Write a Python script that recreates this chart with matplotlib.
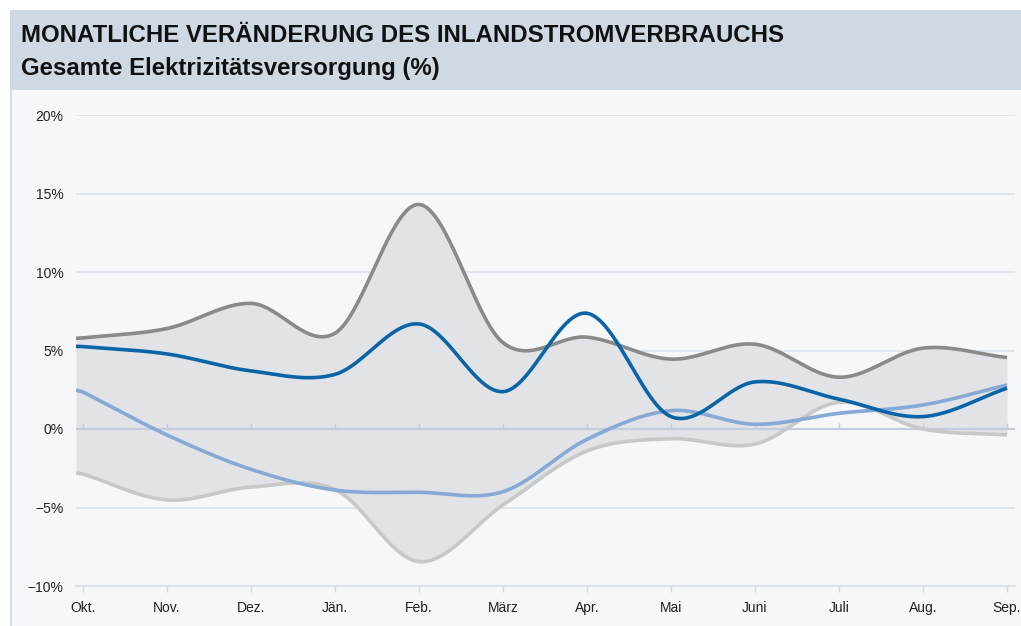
import numpy as np
import matplotlib
matplotlib.use("Agg")
import matplotlib.pyplot as plt
from matplotlib.patches import Rectangle
from matplotlib.lines import Line2D

months = ["Okt.", "Nov.", "Dez.", "Jän.", "Feb.", "März", "Apr.", "Mai", "Juni", "Juli", "Aug.", "Sep."]
max_vals = [5.8, 6.4, 8.0, 6.1, 14.3, 5.5, 5.85, 4.45, 5.4, 3.3, 5.15, 4.55]
min_vals = [-2.87, -4.52, -3.7, -3.85, -8.45, -4.84, -1.4, -0.62, -0.96, 1.7, 0.0, -0.38]
blue_vals = [5.25, 4.78, 3.7, 3.48, 6.69, 2.38, 7.37, 0.79, 3.0, 1.9, 0.79, 2.6]
lightblue_vals = [2.36, -0.38, -2.57, -3.89, -4.03, -3.99, -0.66, 1.17, 0.3, 1.0, 1.53, 2.8]
yticks = [-10, -5, 0, 5, 10, 15, 20]
ytick_labels = ["\u221210%", "\u22125%", "0%", "5%", "10%", "15%", "20%"]

title = "MONATLICHE VERÄNDERUNG DES INLANDSTROMVERBRAUCHS"
subtitle = "Gesamte Elektrizitätsversorgung (%)"

W, H = 1021, 626
fig = plt.figure(figsize=(W / 100, H / 100), dpi=100)
fig.patch.set_facecolor("white")

def fx(px):
    return px / W

def fy(py):
    return 1 - py / H

# panels
fig.add_artist(Rectangle((fx(10), fy(626)), fx(1011), 536 / H, transform=fig.transFigure,
                         facecolor="#f5f7f9", edgecolor="none", zorder=0))
fig.add_artist(Rectangle((fx(10), fy(90)), fx(1011), 80 / H, transform=fig.transFigure,
                         facecolor="#cfd9e3", edgecolor="none", zorder=0))
fig.add_artist(Line2D([fx(11), fx(11)], [fy(90), fy(626)], transform=fig.transFigure,
                      color="#cfd9e5", lw=1.2, zorder=1))

plt.rcParams["font.family"] = ["Liberation Sans", "DejaVu Sans"]

fig.text(fx(21), fy(36), title, fontsize=17.3, fontweight="bold", va="center", ha="left", color="#111111")
fig.text(fx(21), fy(68), subtitle, fontsize=17.3, fontweight="bold", va="center", ha="left", color="#111111")

x0, x1 = 76, 1015
ybot, ytop = 586, 115
ax = fig.add_axes([fx(x0), fy(ybot), (x1 - x0) / W, (ybot - ytop) / H])
ax.set_facecolor("none")
ax.set_ylim(-10, 20)
ax.set_xlim(-7 / 84, 11 + 8 / 84)


def spline(ys, xstart, n=60):
    ys = np.asarray(ys, float)
    k = len(ys)
    xs = np.arange(k, dtype=float)
    m = np.zeros(k)
    m[1:-1] = (ys[2:] - ys[:-2]) / 2.0
    m[0] = (ys[1] - ys[0])
    m[-1] = (ys[-1] - ys[-2])
    X, Y = [], []
    X.append(xstart)
    Y.append(ys[0] + m[0] * (xstart - xs[0]) * 0.5)
    for i in range(k - 1):
        t = np.linspace(0, 1, n, endpoint=(i == k - 2))
        h00 = 2 * t**3 - 3 * t**2 + 1
        h10 = t**3 - 2 * t**2 + t
        h01 = -2 * t**3 + 3 * t**2
        h11 = t**3 - t**2
        X.extend(xs[i] + t)
        Y.extend(h00 * ys[i] + h10 * m[i] + h01 * ys[i + 1] + h11 * m[i + 1])
    return np.array(X), np.array(Y)


xs_start = ax.get_xlim()[0]
xm, ymax = spline(max_vals, xs_start)
_, ymin = spline(min_vals, xs_start)
_, yblue = spline(blue_vals, xs_start)
_, ylb = spline(lightblue_vals, xs_start)

ax.fill_between(xm, ymin, ymax, color="#e2e3e6", lw=0, zorder=1)

for yv in yticks:
    if yv not in (0, -10):
        ax.axhline(yv, color="#d6e0eb", lw=1.1, zorder=0.5)
ax.axhline(0, color="#c3cddc", lw=1.6, zorder=2)

ax.plot(xm, ymin, color="#c8c8c8", lw=2.6, zorder=3, solid_capstyle="butt")
ax.plot(xm, ymax, color="#8a8a8a", lw=2.6, zorder=3, solid_capstyle="butt")
ax.plot(xm, ylb, color="#86a9d6", lw=2.6, zorder=4, solid_capstyle="butt")
ax.plot(xm, yblue, color="#0a64a6", lw=2.6, zorder=5, solid_capstyle="butt")

for s in ["top", "right", "left"]:
    ax.spines[s].set_visible(False)
ax.spines["bottom"].set_color("#d0dae6")
ax.spines["bottom"].set_linewidth(1.1)

ax.set_yticks(yticks)
ax.set_yticklabels(ytick_labels)
ax.set_xticks(np.arange(len(months)))
ax.set_xticklabels(months)
ax.tick_params(axis="y", length=0, pad=9, labelsize=10, labelcolor="#222222")
ax.tick_params(axis="x", length=4.5, width=1, color="#d0dae6", pad=6, labelsize=10, labelcolor="#222222")

sec = ax.secondary_xaxis(1 / 3)
sec.set_zorder(2.5)
sec.set_xticks(np.arange(len(months)))
sec.tick_params(axis="x", direction="in", length=4, width=1, color="#c3cddc", labelbottom=False)
sec.spines["bottom"].set_visible(False)

fig.savefig("out.png", dpi=100, facecolor=fig.get_facecolor())
